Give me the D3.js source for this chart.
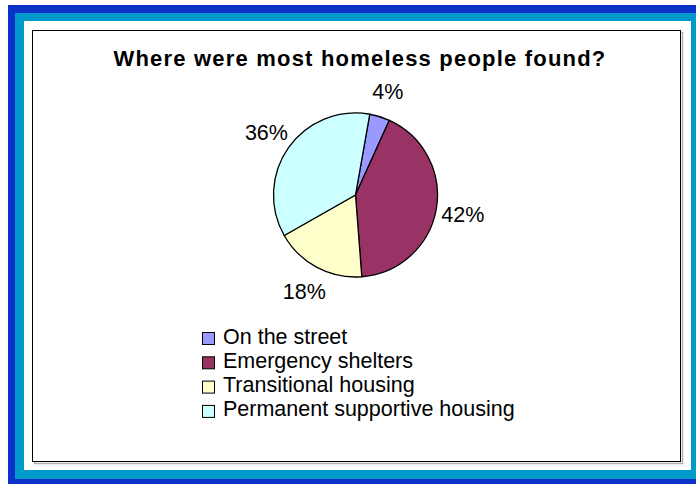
<!DOCTYPE html>
<html>
<head>
<meta charset="utf-8">
<script src="https://cdn.jsdelivr.net/npm/d3@7"></script>
<style>
  html, body { margin: 0; padding: 0; background: #fff; }
  svg text { font-family: "Liberation Sans", Arial, sans-serif; fill: #000; }
</style>
</head>
<body>
<div id="chart"></div>
<script>
// Data
var categories = ["On the street", "Emergency shelters", "Transitional housing", "Permanent supportive housing"];
var values = [4, 42, 18, 36];
var colors = ["#9999ff", "#993366", "#ffffcc", "#ccffff"];
var title = "Where were most homeless people found?";

var width = 696;
var height = 484;

var svg = d3.select("#chart").append("svg")
  .attr("width", width)
  .attr("height", height);

// Frame (blue borders + plot box)
svg.append("rect").attr("x", 8).attr("y", 5).attr("width", 710).attr("height", 500).attr("fill", "#0a32c8");
svg.append("rect").attr("x", 15).attr("y", 13).attr("width", 700).attr("height", 466).attr("fill", "#0099cc");
svg.append("rect").attr("x", 24).attr("y", 21).attr("width", 667).attr("height", 449).attr("fill", "#fff");
svg.append("rect").attr("x", 34.5).attr("y", 32.5).attr("width", 648).attr("height", 431)
  .attr("fill", "none").attr("stroke", "#b0b0b0").attr("stroke-width", 1.5);
svg.append("rect").attr("x", 32.5).attr("y", 30.5).attr("width", 648).attr("height", 431)
  .attr("fill", "#fff").attr("stroke", "#000").attr("stroke-width", 1);

// Title
svg.append("text")
  .attr("x", 360)
  .attr("y", 66)
  .attr("text-anchor", "middle")
  .style("font-size", "22px")
  .style("font-weight", "bold")
  .style("letter-spacing", "1.2px")
  .text(title);

// Pie
var cx = 355.5, cy = 195, radius = 82;
var start = 10 * Math.PI / 180;

var pie = d3.pie()
  .sort(null)
  .startAngle(start)
  .endAngle(start + 2 * Math.PI);

var arc = d3.arc().innerRadius(0).outerRadius(radius);
var labelArc = d3.arc().innerRadius(109).outerRadius(109);

var g = svg.append("g").attr("transform", "translate(" + cx + "," + cy + ")");
var arcs = pie(values);

g.selectAll("path.slice")
  .data(arcs)
  .enter().append("path")
  .attr("class", "slice")
  .attr("d", arc)
  .attr("fill", function(d, i) { return colors[i]; })
  .attr("stroke", "#000")
  .attr("stroke-width", 1.3)
  .attr("stroke-linejoin", "round");

g.selectAll("text.pct")
  .data(arcs)
  .enter().append("text")
  .attr("class", "pct")
  .attr("transform", function(d) { return "translate(" + labelArc.centroid(d) + ")"; })
  .attr("text-anchor", "middle")
  .attr("dy", "0.36em")
  .style("font-size", "21.5px")
  .text(function(d) { return d.value + "%"; });

// Legend
var legend = svg.append("g").attr("transform", "translate(202,332)");
var rowH = 24.3;

var item = legend.selectAll("g.item")
  .data(categories)
  .enter().append("g")
  .attr("class", "item")
  .attr("transform", function(d, i) { return "translate(0," + (i * rowH) + ")"; });

item.append("rect")
  .attr("x", 0.5).attr("y", 0.5)
  .attr("width", 12).attr("height", 12)
  .attr("fill", function(d, i) { return colors[i]; })
  .attr("stroke", "#000")
  .attr("stroke-width", 1);

item.append("text")
  .attr("x", 21)
  .attr("y", 11.5)
  .style("font-size", "21.5px")
  .text(function(d) { return d; });
</script>
</body>
</html>
